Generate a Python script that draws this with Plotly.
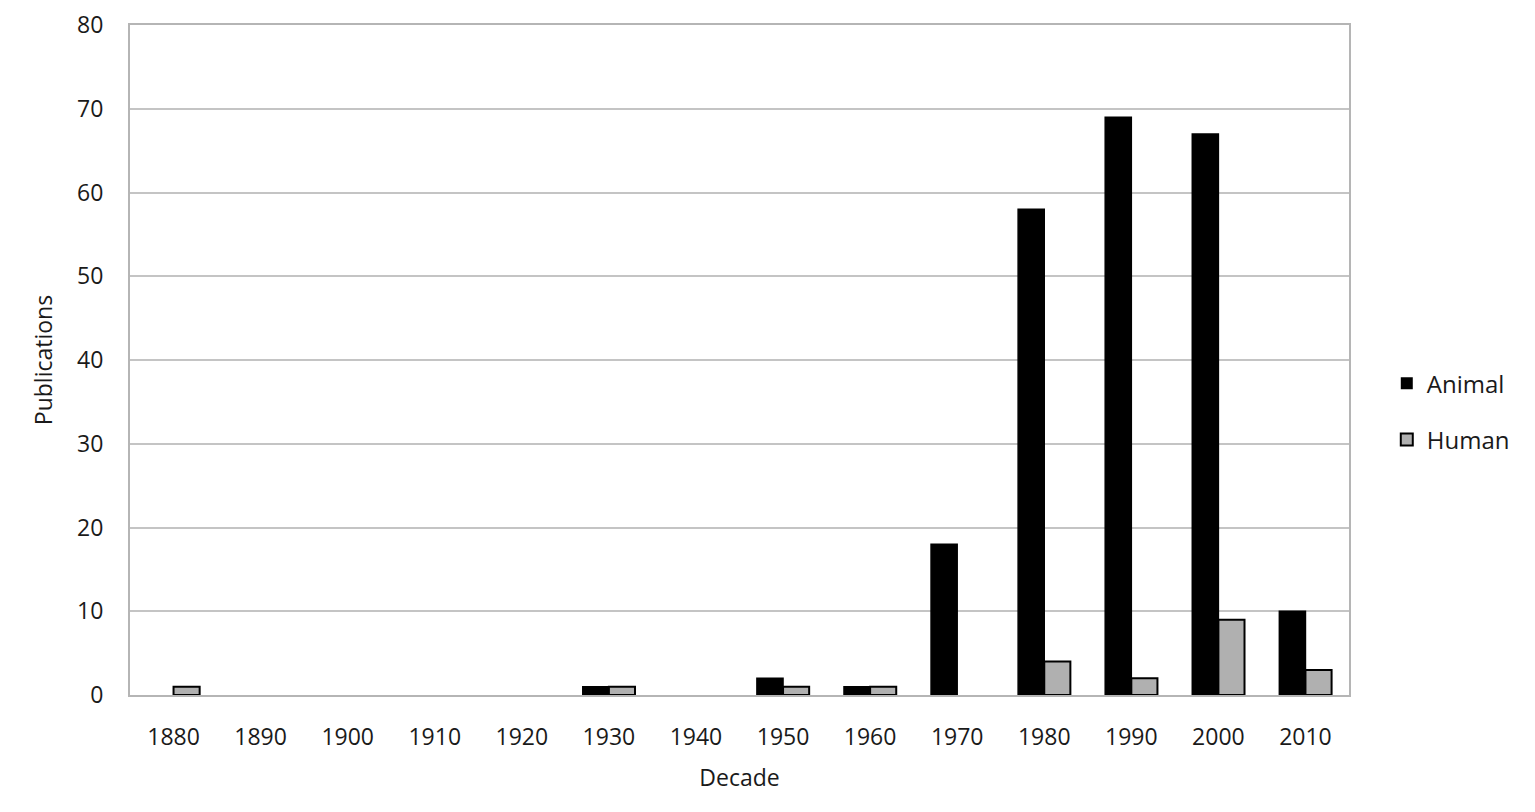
import plotly.graph_objects as go

decades = ["1880", "1890", "1900", "1910", "1920", "1930", "1940", "1950", "1960", "1970", "1980", "1990", "2000", "2010"]
animal = [0, 0, 0, 0, 0, 1, 0, 2, 1, 18, 58, 69, 67, 10]
human = [1, 0, 0, 0, 0, 1, 0, 1, 1, 0, 4, 2, 9, 3]

fig = go.Figure()
fig.add_trace(go.Bar(x=decades, y=animal, name="Animal", legendgroup="animal",
                     marker=dict(color="#000000",
                                 line=dict(color="#000000", width=[0 if v == 0 else 1.5 for v in animal]))))
fig.add_trace(go.Bar(x=decades, y=human, name="Human", legendgroup="human",
                     marker=dict(color="#b0b0b0",
                                 line=dict(color="#000000", width=[0 if v == 0 else 2 for v in human]))))

font_family = "Open Sans, DejaVu Sans, sans-serif"
fig.update_layout(
    width=1535, height=812,
    margin=dict(l=122, r=194, t=17, b=125, autoexpand=False),
    paper_bgcolor="white", plot_bgcolor="white",
    barmode="group", bargap=0.4, bargroupgap=0,
    font=dict(family=font_family, size=23, color="#1a1a1a"),
    legend=dict(x=1.031, y=0.423, xanchor="left", yanchor="middle",
                font=dict(size=24), tracegroupgap=22, itemwidth=30),
    xaxis=dict(title=dict(text="Decade", font=dict(size=23), standoff=19),
               showline=True, linecolor="#b5b5b5", linewidth=2, mirror=True,
               ticks="", ticklabelstandoff=20, tickfont=dict(size=23), automargin=False),
    yaxis=dict(title=dict(text="Publications", font=dict(size=23), standoff=18),
               range=[0, 80], dtick=10, showgrid=True, gridcolor="#c4c4c4", gridwidth=1.5,
               showline=True, linecolor="#b5b5b5", linewidth=2, mirror=True,
               zeroline=False, ticks="", ticklabelstandoff=20, ticklabeloverflow="allow",
               tickfont=dict(size=23), automargin=False),
)

fig.write_html("out.html")
